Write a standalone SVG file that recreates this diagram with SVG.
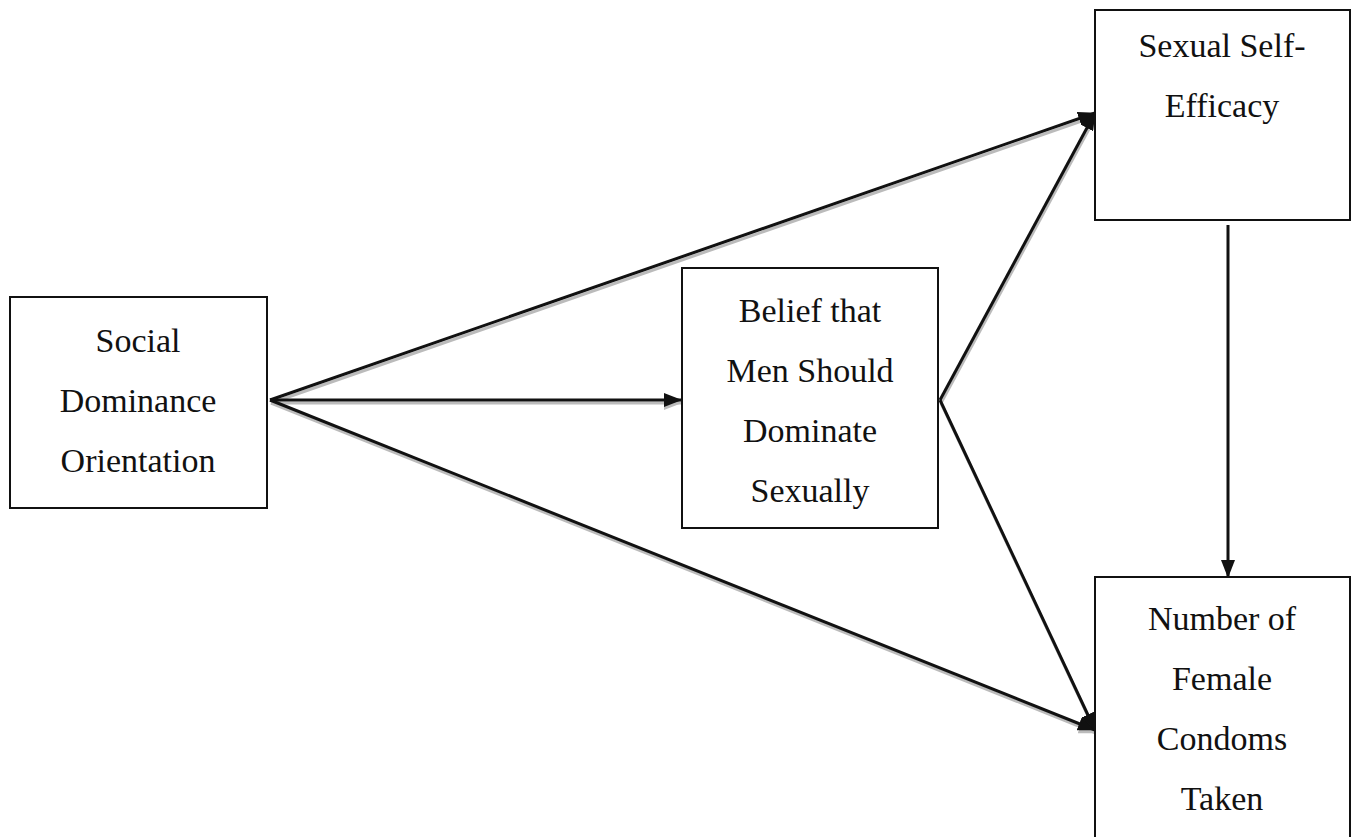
<svg xmlns="http://www.w3.org/2000/svg" width="1358" height="837" viewBox="0 0 1358 837">
<style>
.box{fill:#fff;stroke:#111;stroke-width:2}
.t{font-family:"Liberation Serif","Times New Roman",serif;font-size:34px;fill:#111;text-anchor:middle}
.ln{stroke:#111;stroke-width:3;fill:none}
.sh{stroke:#bbb;stroke-width:3;fill:none}
</style>
<defs>
<marker id="big" markerWidth="18" markerHeight="14" refX="17" refY="7" orient="auto" markerUnits="userSpaceOnUse" viewBox="0 0 18 14">
<path d="M0,0 L18,7 L0,14 z" fill="#111"/>
</marker>
<marker id="bigs" markerWidth="18" markerHeight="14" refX="17" refY="7" orient="auto" markerUnits="userSpaceOnUse" viewBox="0 0 18 14">
<path d="M0,0 L18,7 L0,14 z" fill="#bbb"/>
</marker>
</defs>
<rect width="1358" height="837" fill="#fff"/>
<g id="connectors">
<g transform="translate(1,3)">
<line class="sh" x1="270" y1="400" x2="1095" y2="113"/>
<line class="sh" x1="270" y1="400" x2="1095" y2="730" marker-end="url(#bigs)"/>
<line class="sh" x1="270" y1="400" x2="680" y2="400" marker-end="url(#bigs)"/>
<line class="sh" x1="940" y1="400" x2="1095" y2="113"/>
<line class="sh" x1="940" y1="400" x2="1095" y2="730"/>
</g>
<line class="ln" x1="270" y1="400" x2="1095" y2="113" marker-end="url(#big)"/>
<line class="ln" x1="270" y1="400" x2="1095" y2="730" marker-end="url(#big)"/>
<line class="ln" x1="270" y1="400" x2="681" y2="400" marker-end="url(#big)"/>
<line class="ln" x1="940" y1="400" x2="1095" y2="113" marker-end="url(#big)"/>
<line class="ln" x1="940" y1="400" x2="1095" y2="730" marker-end="url(#big)"/>
<line class="ln" x1="1228" y1="225" x2="1228" y2="577" marker-end="url(#big)"/>
</g>
<g id="sdo">
<rect class="box" x="10" y="297" width="257" height="211"/>
<text class="t" x="138" y="352">Social</text>
<text class="t" x="138" y="412">Dominance</text>
<text class="t" x="138" y="472">Orientation</text>
</g>
<g id="belief">
<rect class="box" x="682" y="268" width="256" height="260"/>
<text class="t" x="810" y="322">Belief that</text>
<text class="t" x="810" y="382">Men Should</text>
<text class="t" x="810" y="442">Dominate</text>
<text class="t" x="810" y="502">Sexually</text>
</g>
<g id="efficacy">
<rect class="box" x="1095" y="10" width="255" height="210"/>
<text class="t" x="1222" y="57">Sexual Self-</text>
<text class="t" x="1222" y="117">Efficacy</text>
</g>
<g id="condoms">
<rect class="box" x="1095" y="577" width="255" height="270"/>
<text class="t" x="1222" y="630">Number of</text>
<text class="t" x="1222" y="690">Female</text>
<text class="t" x="1222" y="750">Condoms</text>
<text class="t" x="1222" y="810">Taken</text>
</g>
</svg>
